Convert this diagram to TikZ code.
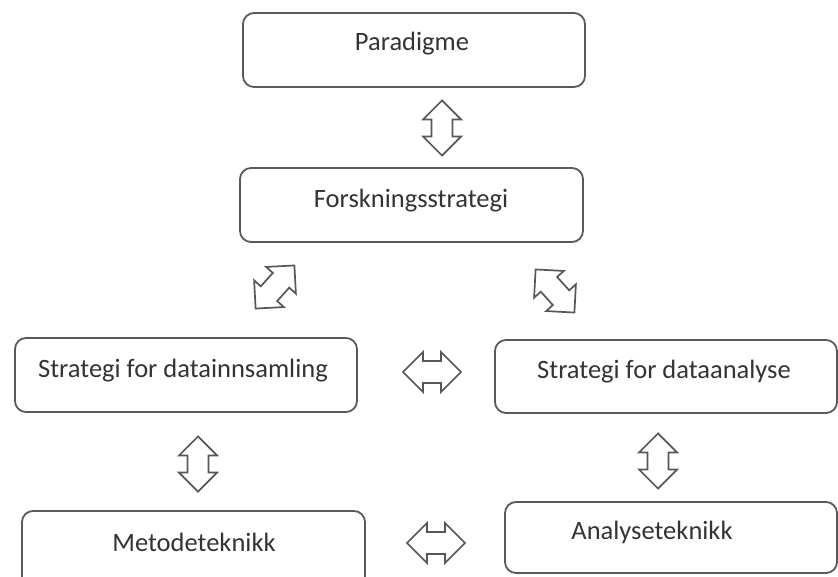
\documentclass[tikz,border=0pt]{standalone}
\usepackage{fontspec}
\setmainfont{Carlito}
\begin{document}
\begin{tikzpicture}[x=1pt,y=-1pt,
  box/.style={draw=boxgray,line width=1.8pt,rounded corners=11pt},
  lbl/.style={anchor=base,text=txtgray,font=\fontsize{26.5}{31}\selectfont,inner sep=0pt},
  dblarr/.pic={\draw[draw=arrgray,line width=1.7pt,line join=miter,fill=white]
     (-29,0) -- (-9,-20) -- (-9,-11) -- (9,-11) -- (9,-20) -- (29,0)
     -- (9,20) -- (9,11) -- (-9,11) -- (-9,20) -- cycle;}
]
\definecolor{boxgray}{HTML}{5A5A5A}
\definecolor{txtgray}{HTML}{333333}
\definecolor{arrgray}{HTML}{575757}
\useasboundingbox (0,0) rectangle (838,577);
% boxes
\draw[box] (243,13) rectangle (585,87);
\node[lbl] (p) at (412,51) {Paradigme};
\draw[box] (240,168) rectangle (583,242);
\node[lbl] (f) at (411,208) {Forskningsstrategi};
\draw[box] (15,338) rectangle (357,412);
\node[lbl] (sdi) at (183,377) {Strategi for datainnsamling};
\draw[box] (495,340) rectangle (837,413);
\node[lbl] (sda) at (664,378) {Strategi for dataanalyse};
\draw[box] (22,511) rectangle (365,600);
\node[lbl] (m) at (194,551) {Metodeteknikk};
\draw[box] (505,502) rectangle (837,573);
\node[lbl] (a) at (652,539) {Analyseteknikk};
% block arrows
\pic[rotate=90,scale=0.95] (a1) at (442,128) {dblarr};
\pic[rotate=48,scale=1.0] (a2) at (275,287) {dblarr};
\pic[rotate=-48,scale=1.0] (a3) at (555,291) {dblarr};
\pic (a4) at (432,372) {dblarr};
\pic[rotate=90,scale=0.95] (a5) at (198,464) {dblarr};
\pic[rotate=90,scale=0.95] (a6) at (658,461) {dblarr};
\pic (a7) at (436,543) {dblarr};
\end{tikzpicture}
\end{document}
